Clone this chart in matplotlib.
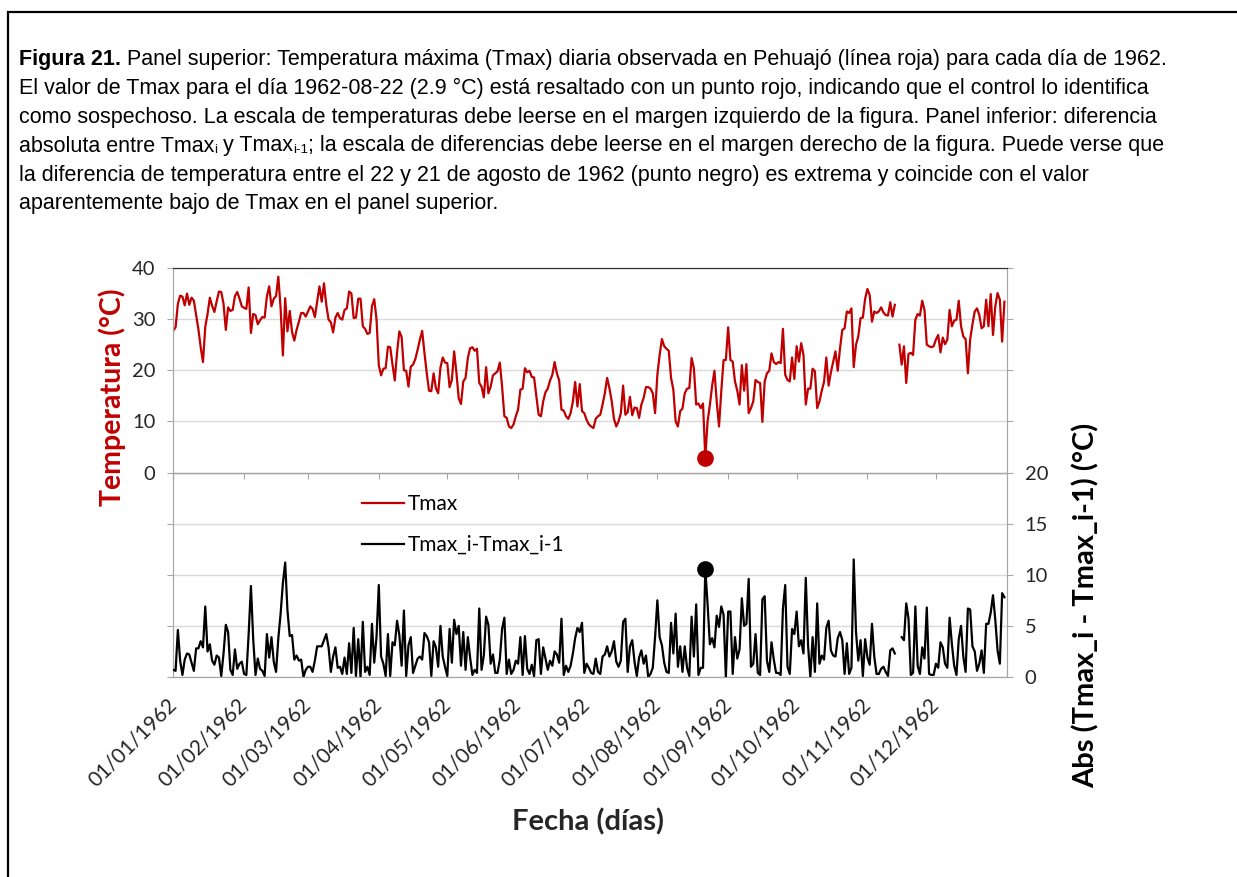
import numpy as np
import matplotlib
matplotlib.use('Agg')
import matplotlib.pyplot as plt
import matplotlib.dates as mdates
from matplotlib.patches import Rectangle
from matplotlib.lines import Line2D

# ---------------- data ----------------
tmax_jan = [27.8, 28.4, 33.0, 34.6, 34.4, 32.7, 35.0, 32.8, 34.2, 33.6,
            30.8, 28.0, 24.5, 21.6, 28.5, 31.0, 34.2, 32.6, 31.4, 33.5,
            35.4, 35.3, 33.0, 27.9, 32.3, 31.6, 31.8, 34.5, 35.3, 34.0, 32.5]
tmax_feb = [32.2, 32.0, 36.2, 27.3, 31.0, 30.8, 29.0, 29.8, 30.4, 30.3,
            34.5, 36.4, 32.5, 34.0, 34.5, 38.3, 32.1, 22.9, 34.1, 27.6,
            31.6, 27.5, 25.8, 27.9, 29.5, 31.2, 31.2, 30.5]
tmax_mar = [31.5, 32.5, 32.0, 30.4, 33.4, 36.4, 33.4, 37.0, 32.8, 29.9,
            29.4, 27.4, 30.3, 31.2, 30.2, 29.9, 31.8, 32.1, 35.4, 35.0,
            30.2, 30.3, 34.0, 34.0, 28.6, 28.1, 27.1, 27.3, 32.5, 33.9, 30.0]
tmax_apr = [21.0, 19.0, 20.3, 20.4, 24.6, 24.5, 21.1, 18.0, 23.5, 27.6,
            26.5, 20.0, 19.9, 16.8, 20.7, 21.1, 22.2, 24.0, 26.0, 27.7,
            23.4, 19.4, 16.0, 15.9, 19.4, 16.5, 15.5, 20.5, 22.5, 21.5]
tmax_may = [21.4, 16.7, 18.1, 23.7, 19.5, 14.5, 13.4, 17.8, 18.5, 22.4,
            24.3, 24.5, 23.8, 24.2, 17.5, 16.8, 14.7, 20.6, 15.5, 16.8,
            19.0, 19.4, 19.8, 21.5, 16.8, 11.0, 10.7, 9.0, 8.7, 9.4, 11.0]
tmax_jun = [12.3, 16.2, 16.4, 20.4, 19.6, 19.9, 18.7, 18.6, 15.0, 11.3,
            11.0, 13.9, 15.7, 16.4, 18.0, 19.1, 21.6, 19.4, 18.0, 12.3,
            12.1, 11.0, 10.5, 11.6, 13.9, 17.7, 12.9, 17.3, 12.0, 11.6]
tmax_jul = [10.3, 9.4, 9.0, 8.7, 10.5, 11.0, 11.3, 13.3, 15.5, 18.5,
            16.5, 14.0, 10.5, 9.0, 10.0, 11.6, 17.0, 11.3, 11.8, 14.8,
            11.2, 12.7, 12.6, 10.7, 13.3, 14.6, 16.7, 16.7, 16.4, 15.5, 11.6]
tmax_aug = [19.1, 23.0, 26.1, 24.7, 24.2, 23.8, 18.5, 16.2, 10.0, 9.0,
            12.0, 12.5, 15.5, 16.4, 16.5, 22.4, 20.4, 13.3, 13.5, 12.6,
            13.5, 2.9, 10.0, 13.2, 17.0, 19.9, 13.9, 9.0, 15.9, 22.0, 22.0]
tmax_sep = [28.4, 22.0, 21.7, 17.8, 16.0, 13.3, 21.0, 16.0, 21.2, 11.6,
            12.6, 13.9, 18.1, 17.7, 17.5, 9.9, 17.8, 19.4, 19.9, 23.3,
            21.6, 21.2, 21.6, 21.4, 28.1, 19.1, 18.1, 17.8, 22.5, 18.3]
tmax_oct = [24.7, 21.7, 25.3, 23.0, 13.3, 16.4, 16.4, 20.3, 19.8, 12.6,
            13.9, 16.0, 17.7, 22.5, 17.0, 19.6, 21.7, 23.7, 19.9, 24.3,
            27.9, 28.2, 31.5, 31.2, 32.1, 20.6, 25.0, 26.6, 30.2, 30.3, 34.0]
tmax_nov = [35.9, 34.7, 29.5, 31.5, 31.2, 31.5, 32.3, 31.3, 30.8, 30.7,
            33.3, 30.5, 32.8, np.nan, 25.0, 21.1, 24.7, 17.5, 23.2, 23.4,
            23.0, 29.9, 31.0, 30.7, 33.6, 31.8, 25.0, 24.7, 24.5, 24.7]
tmax_dec = [26.0, 26.9, 23.5, 26.4, 25.1, 26.0, 31.8, 28.6, 29.7, 29.9,
            33.6, 28.6, 26.6, 26.1, 19.4, 26.0, 29.0, 31.5, 32.1, 30.8,
            28.2, 28.6, 33.8, 28.6, 34.9, 26.9, 32.5, 35.1, 33.8, 25.6, 33.4]
tmax_dec31_1961 = 27.1          # previous day, gives the first difference
flag_date = '1962-08-22'        # suspicious value (2.9 °C)
month_labels = ['01/01/1962', '01/02/1962', '01/03/1962', '01/04/1962',
                '01/05/1962', '01/06/1962', '01/07/1962', '01/08/1962',
                '01/09/1962', '01/10/1962', '01/11/1962', '01/12/1962']
series_labels = ['Tmax', 'Tmax_i-Tmax_i-1']

# ---------------- derived ----------------
tmax = np.array(tmax_jan + tmax_feb + tmax_mar + tmax_apr + tmax_may + tmax_jun +
                tmax_jul + tmax_aug + tmax_sep + tmax_oct + tmax_nov + tmax_dec, dtype=float)
days = np.arange(np.datetime64('1962-01-01'), np.datetime64('1963-01-01'))
x = mdates.date2num(days.astype('datetime64[D]').astype(object))
prev = np.concatenate([[tmax_dec31_1961], tmax[:-1]])
absdiff = np.abs(tmax - prev)
fi = int((np.datetime64(flag_date) - np.datetime64('1962-01-01')).astype(int))
month_starts = mdates.date2num([np.datetime64('1962-%02d-01' % m).astype(object) for m in range(1, 13)])

# ---------------- style ----------------
RED = '#C00000'
GRID = '#D9D9D9'
AXC = '#A6A6A6'
TXT = '#262626'
plt.rcParams['font.family'] = ['Lato', 'DejaVu Sans']

W, H = 1237, 877
fig = plt.figure(figsize=(W / 100, H / 100), dpi=100)

def fx(px):
    return px / W

def fy(py):
    return 1 - py / H

ax = fig.add_axes([fx(173.3), fy(677), (1006.7 - 173.3) / W, (677 - 268) / H])
ax.set_xlim(x[0], x[-1] + 1)
ax.set_ylim(-40, 40)
for v in range(-40, 41, 10):
    ax.axhline(v, color=GRID, lw=1.0, zorder=0)
ax.axhline(0, color=AXC, lw=1.0, zorder=1)
for s in ['left', 'right', 'bottom']:
    ax.spines[s].set_color(AXC)
ax.spines['top'].set_color('#333333')
ax.set_yticks(range(-40, 41, 10))
ax.set_yticklabels([str(v) if v >= 0 else '' for v in range(-40, 41, 10)])
ax.tick_params(axis='y', length=4, color=AXC, labelsize=14.5, labelcolor=TXT, pad=9)
ax.set_xticks(month_starts)
ax.set_xticklabels(month_labels)
ax.tick_params(axis='x', length=0, labelsize=15, labelcolor=TXT, pad=18)
for lab in ax.get_xticklabels():
    lab.set_rotation(45)
    lab.set_ha('right')
    lab.set_va('center')
    lab.set_rotation_mode('anchor')

sec = ax.secondary_xaxis(0.5)
sec.set_alignment('bottom')
sec.set_xticks(month_starts)
sec.tick_params(axis='x', length=4, color=AXC, labelbottom=False, labeltop=False)
sec.spines['bottom'].set_color(AXC)

ax.plot(x, tmax, color=RED, lw=1.6, zorder=3)
ax.plot(x[fi], tmax[fi], 'o', color=RED, ms=11, zorder=4)

ax2 = ax.twinx()
ax2.set_ylim(0, 40)
ax2.set_yticks(range(0, 41, 5))
ax2.set_yticklabels([str(v) if v <= 20 else '' for v in range(0, 41, 5)])
ax2.tick_params(axis='y', length=4, color=AXC, labelsize=14.5, labelcolor=TXT, pad=9)
for s in ['left', 'right', 'bottom']:
    ax2.spines[s].set_color(AXC)
ax2.spines['top'].set_color('#333333')
ax2.plot(x, absdiff, color='black', lw=1.6, zorder=3)
ax2.plot(x[fi], absdiff[fi], 'o', color='black', ms=11, zorder=4)

ax2.legend([Line2D([], [], color=RED, lw=1.6), Line2D([], [], color='black', lw=1.6)],
           series_labels, loc='upper left', bbox_to_anchor=(0.2264, 0.447),
           frameon=False, fontsize=15, handlelength=2.0, handletextpad=0.2,
           labelspacing=1.0, borderpad=0, borderaxespad=0)

fig.text(fx(112), fy(397), 'Temperatura (°C)', rotation=90, color=RED,
         fontsize=20.5, fontweight='bold', ha='center', va='center')
fig.text(fx(1086), fy(605), 'Abs (Tmax_i - Tmax_i-1) (°C)', rotation=90, color='black',
         fontsize=21, fontweight='bold', ha='center', va='center')
fig.text(fx(588), fy(822), 'Fecha (días)', color=TXT,
         fontsize=21, fontweight='bold', ha='center', va='center')

# ---------------- caption ----------------
CAPSZ = 15.5
renderer = fig.canvas.get_renderer()

def runs(ypix, pieces):
    xpos = 19.0
    for txt, kw in pieces:
        size = kw.get('size', CAPSZ)
        dyp = kw.get('dy', 0)
        t = fig.text(fx(xpos), fy(ypix + dyp), txt, family='Liberation Sans', fontsize=size,
                     fontweight=kw.get('weight', 'normal'), color='black', va='center', ha='left')
        xpos += t.get_window_extent(renderer).width

y0, dy = 59, 29
runs(y0, [('Figura 21.', {'weight': 'bold'}),
          (' Panel superior: Temperatura máxima (Tmax) diaria observada en Pehuajó '
           '(línea roja) para cada día de 1962.', {})])
runs(y0 + dy, [('El valor de Tmax para el día 1962-08-22 (2.9 °C) está resaltado con un '
                'punto rojo, indicando que el control lo identifica', {})])
runs(y0 + 2 * dy, [('como sospechoso. La escala de temperaturas debe leerse en el margen '
                    'izquierdo de la figura. Panel inferior: diferencia', {})])
runs(y0 + 3 * dy, [('absoluta entre Tmax', {}), ('i', {'size': CAPSZ * 0.62, 'dy': 4}),
                   (' y Tmax', {}), ('i-1', {'size': CAPSZ * 0.62, 'dy': 4}),
                   ('; la escala de diferencias debe leerse en el margen derecho de la '
                    'figura. Puede verse que', {})])
runs(y0 + 4 * dy, [('la diferencia de temperatura entre el 22 y 21 de agosto de 1962 '
                    '(punto negro) es extrema y coincide con el valor', {})])
runs(y0 + 5 * dy, [('aparentemente bajo de Tmax en el panel superior.', {})])

fig.patches.append(Rectangle((fx(8), -0.05), 1.2, fy(12) + 0.05, transform=fig.transFigure,
                             fill=False, edgecolor='black', lw=1.6))

fig.savefig('out.png', dpi=100)
